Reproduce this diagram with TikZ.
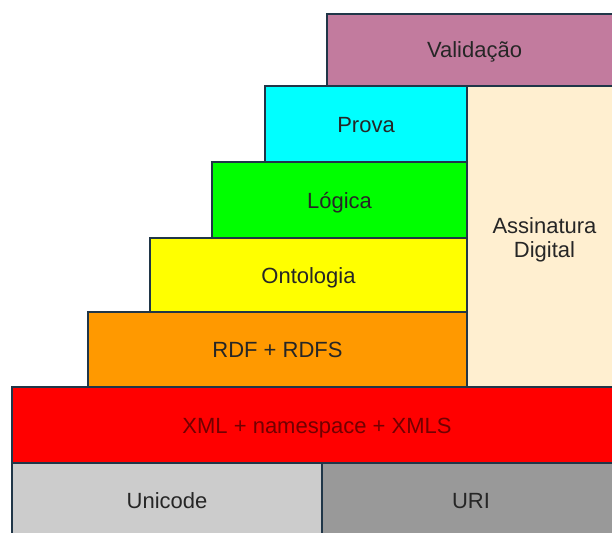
\documentclass[tikz,border=0pt]{standalone}
\usepackage{fontspec}
\setmainfont{Liberation Sans}
\definecolor{edge}{HTML}{203648}
\definecolor{validc}{HTML}{C27B9E}
\definecolor{provac}{HTML}{00FFFF}
\definecolor{logc}{HTML}{00FF00}
\definecolor{ontc}{HTML}{FFFF00}
\definecolor{rdfc}{HTML}{FF9900}
\definecolor{xmlc}{HTML}{FF0000}
\definecolor{unic}{HTML}{CCCCCC}
\definecolor{uric}{HTML}{999999}
\definecolor{sigc}{HTML}{FFEFD0}
\definecolor{xmltext}{HTML}{720000}
\tikzset{
  layer/.style={draw=edge, line width=2pt, rectangle, inner sep=0pt,
    font=\fontsize{22}{24}\selectfont, text=black!85, align=center,
    text height=16pt, text depth=0pt},
}
\begin{document}
\begin{tikzpicture}[x=1pt,y=-1pt]
  \useasboundingbox (0,0) rectangle (612,532);
  \fill[white] (0,0) rectangle (612,532);
  \clip (0,0) rectangle (612,532);
  % upper layers, the right ones run past the page edge
  \node[layer, fill=validc, minimum width=295pt, minimum height=72pt]
    (valid) at (474.5,50) {Validação};
  % two lines: cap height plus one baseline skip
  \node[layer, fill=sigc, minimum width=155pt, minimum height=301pt,
    text height=40pt]
    (sig) at (544.5,237) {Assinatura\\Digital};
  \node[layer, fill=provac, minimum width=202pt, minimum height=76pt]
    (prova) at (366,124) {Prova};
  \node[layer, fill=logc, minimum width=255pt, minimum height=76pt]
    (logica) at (339.5,200) {Lógica};
  \node[layer, fill=ontc, minimum width=317pt, minimum height=74pt]
    (onto) at (308.5,275) {Ontologia};
  \node[layer, fill=rdfc, minimum width=379pt, minimum height=75pt]
    (rdf) at (277.5,349.5) {RDF + RDFS};
  % base layers
  \node[layer, fill=xmlc, text=xmltext, minimum width=610pt, minimum height=76pt]
    (xml) at (317,425) {XML + namespace + XMLS};
  \node[layer, fill=unic, minimum width=310pt, minimum height=74pt]
    (unicode) at (167,500) {Unicode};
  \node[layer, fill=uric, minimum width=298pt, minimum height=74pt]
    (uri) at (471,500) {URI};
\end{tikzpicture}
\end{document}
